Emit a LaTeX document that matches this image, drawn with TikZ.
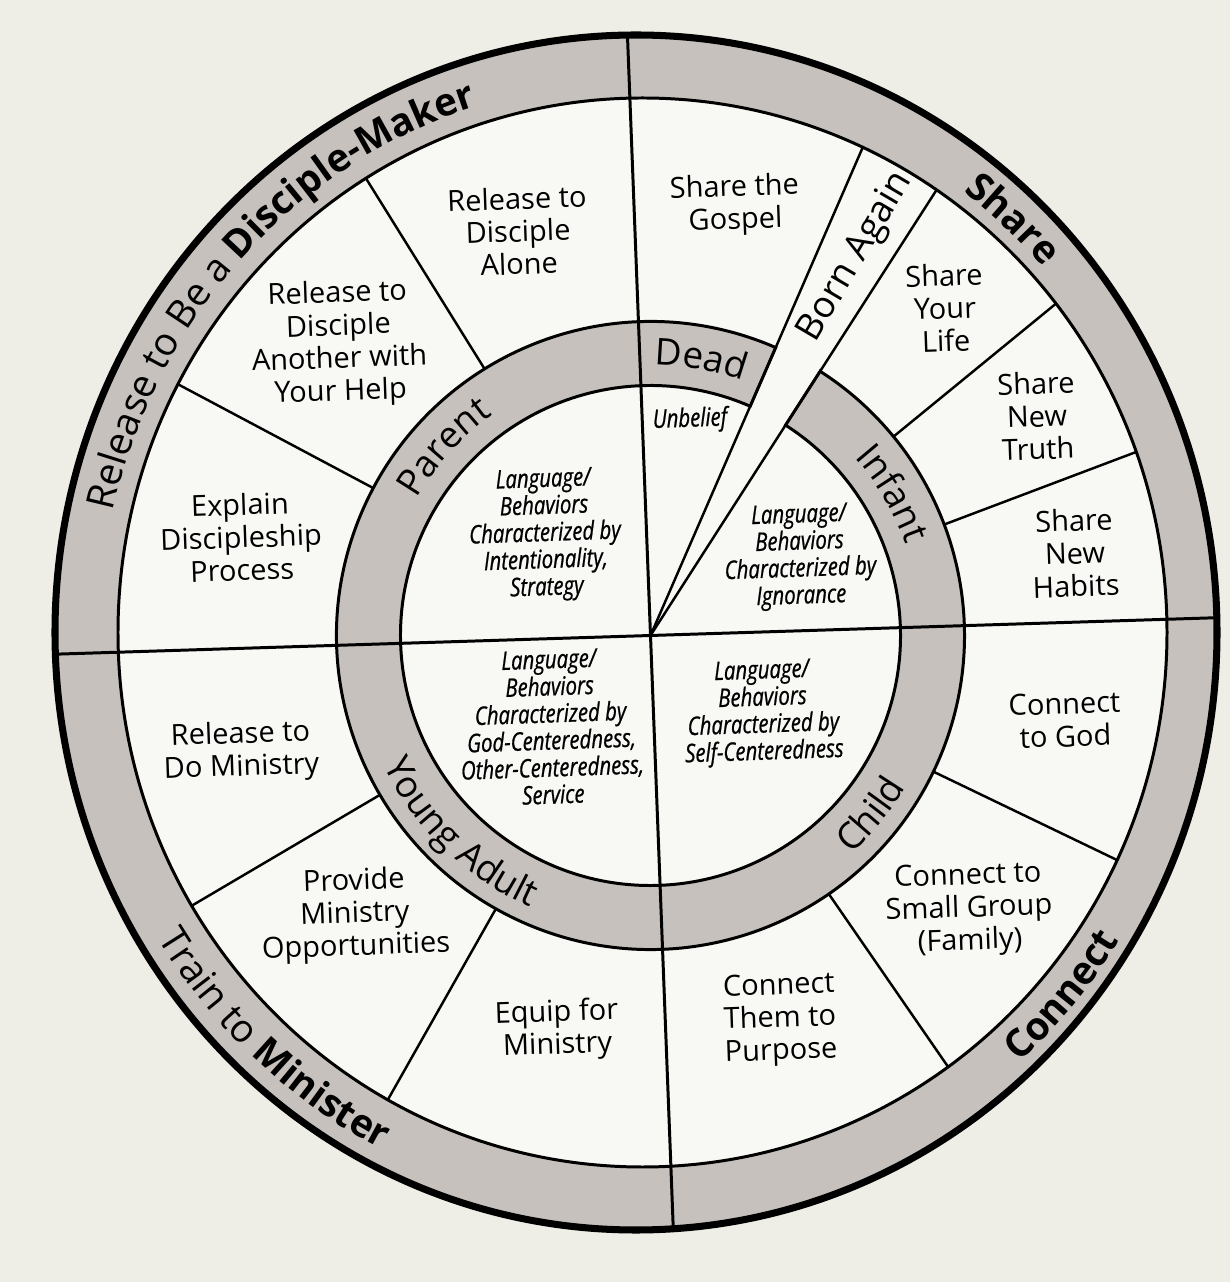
\documentclass[tikz,border=0pt]{standalone}
\usepackage{fontspec}
\setmainfont{Open Sans}
\newfontfamily\corefamily{Open Sans}[FakeStretch=0.8, FakeBold=0.8]
\usetikzlibrary{decorations.text}

\definecolor{paper}{RGB}{238,238,230}
\definecolor{wheel}{RGB}{248,249,244}
\definecolor{band}{RGB}{198,193,188}

\newcommand\bandfont{\fontsize{22}{26}\selectfont}
\newcommand\ringfont{\fontsize{21}{24}\selectfont}

\tikzset{
  sect/.style={align=center, rotate=2, font=\fontsize{16.5}{18.6}\selectfont},
  core/.style={align=center, rotate=2, font=\corefamily\itshape\fontsize{14.5}{15.4}\selectfont},
  spoke/.style={line width=1.4pt},
  edge/.style={line width=1.7pt}
}

\begin{document}
\begin{tikzpicture}[x=0.02cm, y=0.02cm]
\useasboundingbox (0,0) rectangle (1230,1282);
\fill[paper] (0,0) rectangle (1230,1282);

% Centres
\coordinate (hub) at (650.5,646.5);
\coordinate (rim) at (636,649.5);
\coordinate (rimin) at (642.5,649.5);
\coordinate (bandmid) at (639,649.5);

% Wheel face and outer band
\fill[wheel] (rim) ellipse [x radius=581, y radius=597.5];
\fill[band, even odd rule] (rim) ellipse [x radius=581, y radius=597.5]
  (rimin) ellipse [x radius=524.5, y radius=534.5];

% Middle ring, open at the Born Again wedge
\filldraw[band, draw=black, edge, shift={(hub)}]
  (66.5:314) arc[start angle=66.5, end angle=417.3, radius=314]
  -- (417.3:250) arc[start angle=417.3, end angle=66.5, radius=250] -- cycle;

% Spokes and wedge
\begin{scope}
\clip (rimin) ellipse [x radius=524.5, y radius=534.5];
\foreach \a in {20.7,39.3,121.9,152,210.5,240.5,304.6,334.3}
  \draw[spoke] (hub) ++(\a:314) -- ++(\a:300);
\draw[spoke] (hub) -- ++(57.3:600);
\draw[spoke] (hub) -- ++(66.5:600);
\end{scope}

% Quadrant lines
\begin{scope}
\clip (rim) ellipse [x radius=581, y radius=597.5];
\draw[edge] (hub) ++(181.8:640) -- ++(1.8:1280);
\draw[edge] (hub) ++(272.2:640) -- ++(92.2:1280);
\end{scope}

% Outlines
\draw[edge] (rimin) ellipse [x radius=524.5, y radius=534.5];
\draw[line width=4pt] (rim) ellipse [x radius=581, y radius=597.5];

% Outer band words
\path[decorate, decoration={text along path, text align=center,
  text={|\bandfont|Release to Be a |\bandfont\bfseries|Disciple-Maker}}]
  (bandmid) ++(207:539 and 552) arc[start angle=207, end angle=67, x radius=539, y radius=552];
\path[decorate, decoration={text along path, text align=center,
  text={|\bandfont\bfseries|Share}}]
  (bandmid) ++(87.5:539 and 552) arc[start angle=87.5, end angle=7.5, x radius=539, y radius=552];
\path[decorate, decoration={text along path, text align=center,
  text={|\bandfont\bfseries|Connect}}]
  (bandmid) ++(-80.2:567 and 580) arc[start angle=-80.2, end angle=-0.2, x radius=567, y radius=580];
\path[decorate, decoration={text along path, text align=center,
  text={|\bandfont|Train to |\bandfont\bfseries|Minister}}]
  (bandmid) ++(187.6:567 and 580) arc[start angle=187.6, end angle=267.6, x radius=567, y radius=580];

% Ring words
\path[decorate, decoration={text along path, text align=center, text={|\ringfont|Dead}}]
  (hub) ++(119.6:271) arc[start angle=119.6, end angle=39.6, radius=271];
\path[decorate, decoration={text along path, text align=center, text={|\ringfont|Parent}}]
  (hub) ++(177.7:271) arc[start angle=177.7, end angle=97.7, radius=271];
\path[decorate, decoration={text along path, text align=center, text={|\ringfont|Infant}}]
  (hub) ++(70.4:271) arc[start angle=70.4, end angle=-9.6, radius=271];
\path[decorate, decoration={text along path, text align=center, text={|\ringfont|Child}}]
  (hub) ++(-79.1:297) arc[start angle=-79.1, end angle=0.9, radius=297];
\path[decorate, decoration={text along path, text align=center, text={|\ringfont|Young Adult}}]
  (hub) ++(176:297) arc[start angle=176, end angle=276, radius=297];
\node[font=\ringfont, rotate=59.5] (born) at (856,1025) {Born Again};

% Section steps
\node[sect] (alone) at (518,1051) {Release to\\Disciple\\Alone};
\node[sect] (another) at (339,938) {Release to\\Disciple\\Another with\\Your Help};
\node[sect] (explain) at (241,745) {Explain\\Discipleship\\Process};
\node[sect] (doministry) at (241,530) {Release to\\Do Ministry};
\node[sect] (provide) at (355,367) {Provide\\Ministry\\Opportunities};
\node[sect] (equip) at (557,252) {Equip for\\Ministry};
\node[sect] (purpose) at (780,262) {Connect\\Them to\\Purpose};
\node[sect] (smallgroup) at (969,372) {Connect to\\Small Group\\(Family)};
\node[sect] (togod) at (1065,562) {Connect\\to God};
\node[sect] (habits) at (1075,729) {Share\\New\\Habits};
\node[sect] (truth) at (1037,866) {Share\\New\\Truth};
\node[sect] (life) at (945,974) {Share\\Your\\Life};
\node[sect] (gospel) at (735,1077) {Share the\\Gospel};

% Core
\node[core] (unbelief) at (690,862) {Unbelief};
\node[core] (intent) at (545,747) {Language/\\Behaviors\\Characterized by\\Intentionality,\\Strategy};
\node[core] (ignorance) at (800,725) {Language/\\Behaviors\\Characterized by\\Ignorance};
\node[core] (godcentre) at (551,555) {Language/\\Behaviors\\Characterized by\\God-Centeredness,\\Other-Centeredness,\\Service};
\node[core] (selfcentre) at (763,569) {Language/\\Behaviors\\Characterized by\\Self-Centeredness};
\end{tikzpicture}
\end{document}
